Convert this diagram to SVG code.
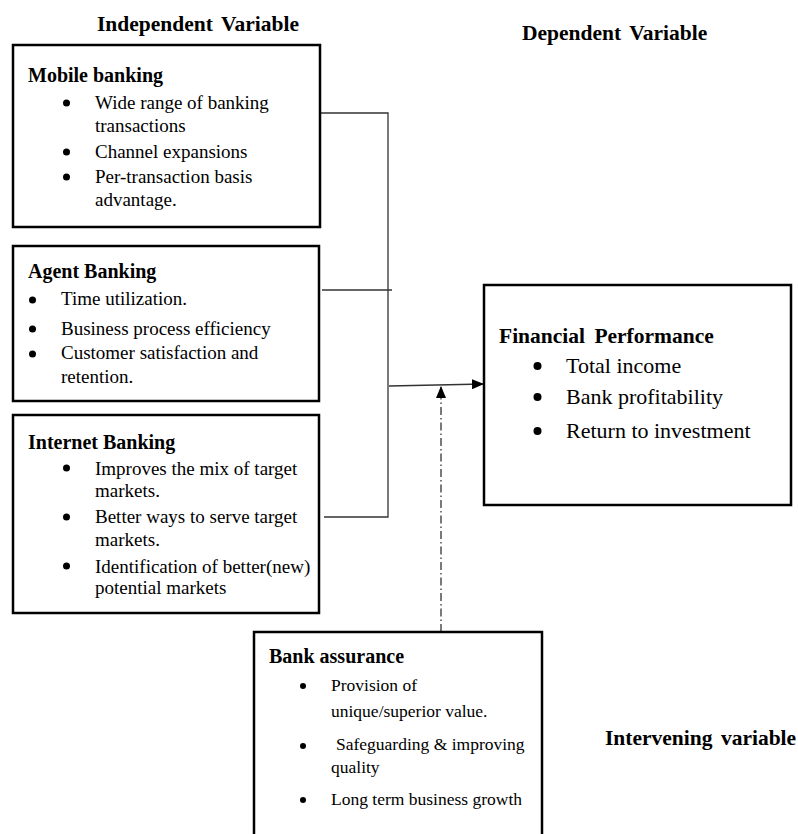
<svg xmlns="http://www.w3.org/2000/svg" width="798" height="834" viewBox="0 0 798 834">
<defs>
<style>
.box{fill:#fff;stroke:#000;stroke-width:2.5}
.t{font-family:"Liberation Serif","Times New Roman",serif;fill:#000}
.h{font-weight:bold;font-size:21.5px;word-spacing:3px}
.nt{font-weight:bold;font-size:20px}
.b{font-size:19px}
.bs{font-size:17.5px}
.fb{font-size:22px}
.dot{fill:#000}
.ln{stroke:#333;stroke-width:1.3;fill:none}
</style>
<marker id="ah" markerWidth="12" markerHeight="10" refX="12" refY="5" orient="auto" markerUnits="userSpaceOnUse">
<path d="M0,0 L12,5 L0,10 Z" fill="#000"/>
</marker>
</defs>
<rect width="798" height="834" fill="#fff"/>
<text class="t h" x="97" y="31">Independent Variable</text>
<text class="t h" x="522" y="40">Dependent Variable</text>
<text class="t h" x="605" y="745">Intervening variable</text>

<g id="connectors">
<path class="ln" d="M320,113 H388 V517 H324"/>
<path class="ln" d="M322,290 H392"/>
<path class="ln" d="M389,386 L484,384" marker-end="url(#ah)"/>
<path class="ln" d="M441,632 V386" stroke-dasharray="8,3,1.5,3" marker-end="url(#ah)"/>
</g>

<g id="mobile">
<rect class="box" x="13" y="45" width="307" height="182"/>
<text class="t nt" x="28" y="82">Mobile banking</text>
<circle class="dot" cx="66.5" cy="103" r="3.5"/>
<circle class="dot" cx="66.5" cy="152" r="3.5"/>
<circle class="dot" cx="66.5" cy="177" r="3.5"/>
<g class="t b">
<text x="95" y="109">Wide range of banking</text>
<text x="95" y="132">transactions</text>
<text x="95" y="158">Channel expansions</text>
<text x="95" y="183">Per-transaction basis</text>
<text x="95" y="206">advantage.</text>
</g>
</g>

<g id="agent">
<rect class="box" x="13" y="246" width="306" height="155"/>
<text class="t nt" x="28" y="278">Agent Banking</text>
<circle class="dot" cx="32.5" cy="300" r="3.5"/>
<circle class="dot" cx="32.5" cy="329" r="3.5"/>
<circle class="dot" cx="32.5" cy="354" r="3.5"/>
<g class="t b">
<text x="61" y="305">Time utilization.</text>
<text x="61" y="335">Business process efficiency</text>
<text x="61" y="359">Customer satisfaction and</text>
<text x="61" y="383">retention.</text>
</g>
</g>

<g id="internet">
<rect class="box" x="13" y="415" width="306" height="198"/>
<text class="t nt" x="28" y="449">Internet Banking</text>
<circle class="dot" cx="66.5" cy="468" r="3.5"/>
<circle class="dot" cx="66.5" cy="517" r="3.5"/>
<circle class="dot" cx="66.5" cy="566" r="3.5"/>
<g class="t b">
<text x="95" y="475">Improves the mix of target</text>
<text x="95" y="497">markets.</text>
<text x="95" y="523">Better ways to serve target</text>
<text x="95" y="546">markets.</text>
<text x="95" y="573">Identification of better(new)</text>
<text x="95" y="594">potential markets</text>
</g>
</g>

<g id="financial">
<rect class="box" x="484" y="285" width="307" height="220"/>
<text class="t" x="499" y="343" style="font-weight:bold;font-size:21.5px;word-spacing:4px">Financial Performance</text>
<circle class="dot" cx="537.5" cy="366" r="4"/>
<circle class="dot" cx="537.5" cy="397" r="4"/>
<circle class="dot" cx="537.5" cy="431" r="4"/>
<g class="t fb">
<text x="566" y="373">Total income</text>
<text x="566" y="404">Bank profitability</text>
<text x="566" y="438">Return to investment</text>
</g>
</g>

<g id="bancassurance">
<rect class="box" x="254" y="632" width="288" height="220"/>
<text class="t nt" x="269" y="663">Bank assurance</text>
<circle class="dot" cx="303" cy="686" r="3"/>
<circle class="dot" cx="303" cy="746" r="3"/>
<circle class="dot" cx="303" cy="800" r="3"/>
<g class="t bs">
<text x="331" y="691">Provision of</text>
<text x="331" y="717">unique/superior value.</text>
<text x="336" y="750">Safeguarding &amp; improving</text>
<text x="331" y="773">quality</text>
<text x="331" y="805">Long term business growth</text>
</g>
</g>
</svg>
